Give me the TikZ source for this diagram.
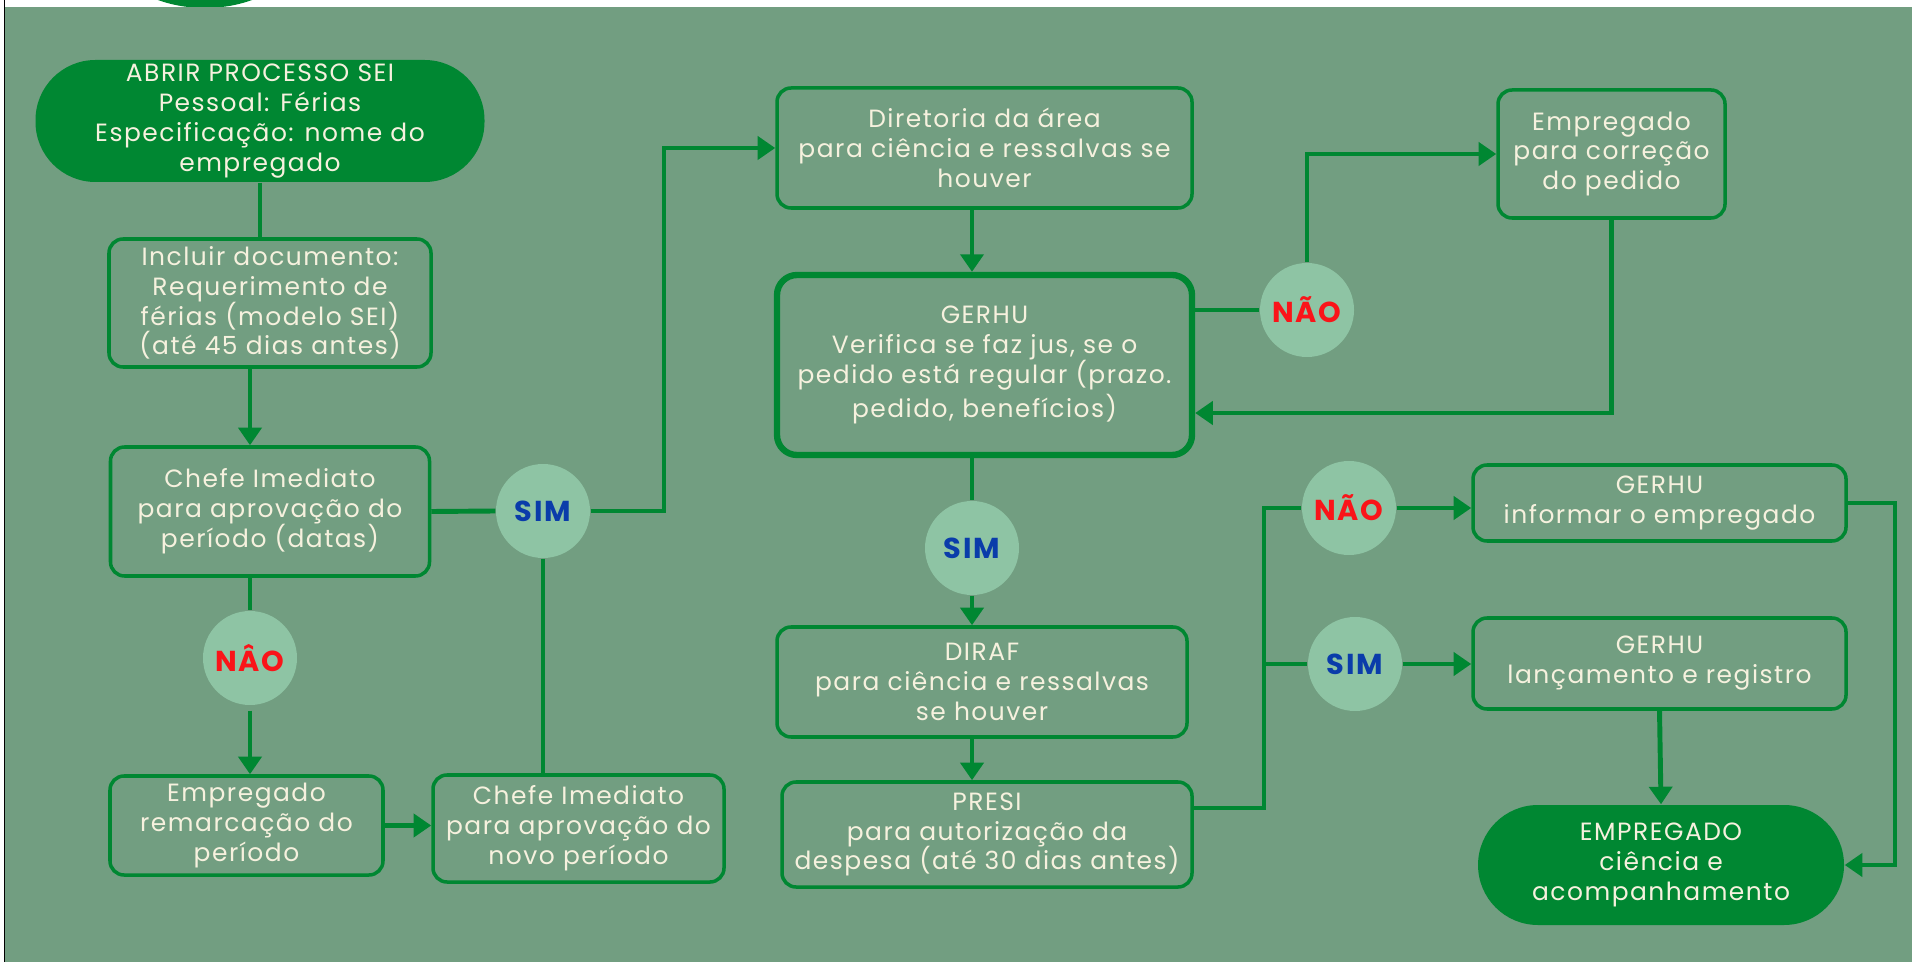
\documentclass[tikz,border=0pt]{standalone}
\usepackage{fontspec}
\setmainfont{Poppins}[LetterSpace=6]
\usepackage{tikz}
\usetikzlibrary{arrows.meta}

\definecolor{fundo}{RGB}{114,158,129}
\definecolor{verde}{RGB}{0,135,50}
\definecolor{bolha}{RGB}{142,196,164}
\definecolor{creme}{RGB}{246,241,222}
\definecolor{naocor}{RGB}{250,20,25}
\definecolor{simcor}{RGB}{10,60,170}

\begin{document}
\begin{tikzpicture}[
  every node/.style={font=\fontsize{7.1}{8.5}\selectfont, text=creme, align=center, inner sep=0pt},
  caixa/.style={draw=verde, line width=1pt, rounded corners=0.14cm},
  pilula/.style={fill=verde, rounded corners=0.6cm},
  decisao/.style={circle, fill=bolha, minimum size=0.94cm, font=\fontsize{8.2}{9}\selectfont\bfseries},
  liga/.style={draw=verde, line width=1.4pt},
  seta/.style={liga, -{Triangle[width=6.5pt,length=5pt]}}]
  \useasboundingbox (0,0) rectangle (19.12,-9.62);
  % logo cut off at the top
  \begin{scope}
    \clip (0,0) rectangle (19.12,-0.08);
    \fill[verde] (2.05,0.6) ellipse (1.0 and 0.68);
  \end{scope}
  \fill[fundo] (0.05,-0.075) rectangle (19.12,-9.62);
  \draw[black, line width=0.4pt] (0.045,0) -- (0.045,-9.62);

  % left column
  \node[pilula, minimum width=4.49cm, minimum height=1.22cm] (abrir) at (2.60,-1.21) {ABRIR PROCESSO SEI\\Pessoal: Férias\\Especificação: nome do\\empregado};
  \node[caixa, minimum width=3.22cm, minimum height=1.28cm] (incluir) at (2.70,-3.03) {Incluir documento:\\Requerimento de\\férias (modelo SEI)\\(até 45 dias antes)};
  \node[caixa, minimum width=3.19cm, minimum height=1.29cm] (chefe) at (2.70,-5.115) {Chefe Imediato\\para aprovação do\\período (datas)};
  \node[decisao, text=naocor] (naoA) at (2.50,-6.58) {NÂO};
  \node[caixa, minimum width=2.73cm, minimum height=0.99cm] (remarca) at (2.465,-8.255) {Empregado\\remarcação do\\período};
  \node[caixa, minimum width=2.91cm, minimum height=1.07cm] (chefeNovo) at (5.785,-8.285) {Chefe Imediato\\para aprovação do\\novo período};
  \node[decisao, text=simcor] (simA) at (5.43,-5.11) {SIM};

  % middle column
  \node[caixa, minimum width=4.15cm, minimum height=1.20cm] (diretoria) at (9.845,-1.48) {Diretoria da área\\para ciência e ressalvas se\\houver};
  \node[caixa, line width=1.8pt, rounded corners=0.2cm, minimum width=4.15cm, minimum height=1.80cm] (gerhu) at (9.845,-3.65) {GERHU\\Verifica se faz jus, se o\\pedido está regular (prazo.\\pedido, benefícios)};
  \node[decisao, text=naocor] (naoB) at (13.07,-3.10) {NÃO};
  \node[caixa, minimum width=2.27cm, minimum height=1.28cm] (correcao) at (16.115,-1.54) {Empregado\\para correção\\do pedido};
  \node[decisao, text=simcor] (simB) at (9.72,-5.48) {SIM};
  \node[caixa, minimum width=4.10cm, minimum height=1.10cm] (diraf) at (9.82,-6.82) {DIRAF\\para ciência e ressalvas\\se houver};
  \node[caixa, minimum width=4.10cm, minimum height=1.05cm] (presi) at (9.87,-8.345) {PRESI\\para autorização da\\despesa (até 30 dias antes)};

  % right column
  \node[decisao, text=naocor] (naoC) at (13.49,-5.08) {NÃO};
  \node[caixa, minimum width=3.73cm, minimum height=0.76cm] (informa) at (16.595,-5.03) {GERHU\\informar o empregado};
  \node[decisao, text=simcor] (simC) at (13.55,-6.64) {SIM};
  \node[caixa, minimum width=3.73cm, minimum height=0.91cm] (lanca) at (16.595,-6.635) {GERHU\\lançamento e registro};
  \node[pilula, minimum width=3.66cm, minimum height=1.20cm] (fim) at (16.61,-8.65) {EMPREGADO\\ciência e\\acompanhamento};

  % connectors
  \draw[liga] (abrir.south) -- (abrir.south |- incluir.north);
  \draw[seta] (incluir.south -| naoA) -- (chefe.north -| naoA);
  \draw[liga] (chefe.east) -- (simA.west);
  \coordinate (sobe) at (6.64,-5.08);
  \draw[seta] (simA.east) -- (simA.east -| sobe) |- (diretoria.west);
  \draw[liga] (simA.south) -- (simA.south |- chefeNovo.north);
  \draw[liga] (chefe.south -| naoA) -- (naoA.north);
  \draw[seta] ([yshift=-0.05cm]naoA.south) -- (naoA.south |- remarca.north);
  \draw[seta] (remarca.east) -- (remarca.east -| chefeNovo.west);
  \draw[seta] (diretoria.south -| simB) -- (gerhu.north -| simB);
  \draw[liga] (gerhu.east |- naoB) -- (naoB.west);
  \draw[seta] (naoB.north) |- (correcao.west);
  \draw[seta] (correcao.south) |- ([yshift=-0.48cm]gerhu.east);
  \draw[liga] (gerhu.south -| simB) -- (simB.north);
  \draw[seta] (simB.south) -- (simB.south |- diraf.north);
  \draw[seta] (diraf.south -| simB) -- (presi.north -| simB);
  \coordinate (ramo) at (12.64,-8.08);
  \draw[liga] (presi.east |- ramo) -- (ramo) -- (ramo |- naoC) -- (naoC.west);
  \draw[liga] (ramo |- simC) -- (simC.west);
  \draw[seta] (naoC.east) -- (naoC.east -| informa.west);
  \draw[seta] (simC.east) -- (simC.east -| lanca.west);
  \draw[seta] (lanca.south) -- (fim.north);
  \coordinate (desce) at (18.95,-5.05);
  \draw[seta] (informa.east) -- (informa.east -| desce) |- (fim.east);
\end{tikzpicture}
\end{document}
